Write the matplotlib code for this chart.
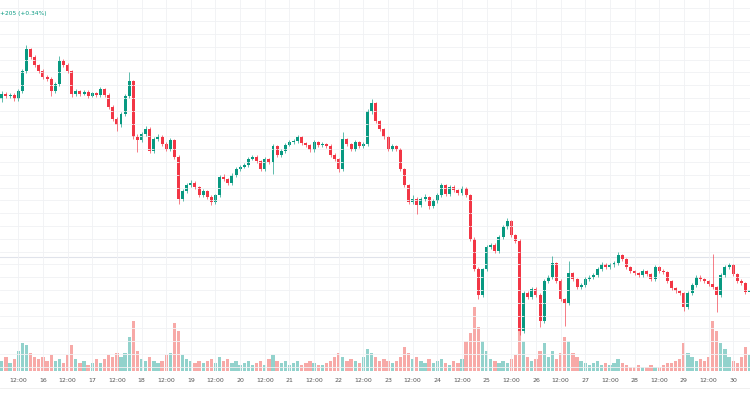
import numpy as np
import matplotlib
matplotlib.use("Agg")
import matplotlib.pyplot as plt

# 2-hour candles, time in hours from day 15 00:00
t_start = 4
step = 2

close = [64400, 64360, 64380, 64300, 64460, 64860, 65300, 65140, 64980, 64860,
         64740, 64700, 64460, 64600, 65060, 64980, 64860, 64400, 64460, 64400,
         64440, 64360, 64420, 64380, 64500, 64380, 64140, 63900, 63780, 64000,
         64360, 64660, 63540, 63480, 63600, 63700, 63260, 63500, 63540, 63400,
         63300, 63480, 63140, 62300, 62460, 62580, 62620, 62540, 62380, 62460,
         62340, 62240, 62380, 62740, 62700, 62620, 62780, 62900, 62940, 62980,
         63100, 63140, 63060, 62900, 63100, 63040, 63360, 63180, 63260, 63380,
         63440, 63460, 63540, 63420, 63380, 63280, 63440, 63380, 63400, 63360,
         63180, 63100, 62900, 63500, 63400, 63300, 63440, 63360, 63400, 64060,
         64220, 63860, 63700, 63540, 63300, 63360, 63300, 62900, 62580, 62240,
         62300, 62180, 62300, 62340, 62160, 62260, 62380, 62580, 62400, 62540,
         62480, 62420, 62520, 62380, 61500, 60900, 60380, 60900, 61340, 61380,
         61260, 61540, 61740, 61860, 61580, 61460, 59660, 60420, 60340, 60500,
         60380, 59860, 60660, 60740, 61020, 60660, 60300, 60220, 60820, 60700,
         60540, 60580, 60700, 60740, 60780, 60900, 61000, 60940, 60980, 61020,
         61180, 61100, 60940, 60860, 60820, 60780, 60860, 60800, 60700, 60940,
         60860, 60840, 60660, 60520, 60460, 60420, 60140, 60420, 60580, 60740,
         60700, 60660, 60600, 60540, 60380, 60780, 60940, 60980, 60800, 60660,
         60620, 60440, 60480]

open_ = [64300, 64400, 64360, 64380, 64300, 64460, 64860, 65300, 65140, 64980,
         64860, 64740, 64700, 64460, 64600, 65060, 64980, 64860, 64400, 64460,
         64400, 64440, 64360, 64420, 64380, 64500, 64380, 64140, 63900, 63780,
         64000, 64360, 64660, 63540, 63480, 63600, 63700, 63260, 63500, 63540,
         63400, 63300, 63480, 63140, 62300, 62460, 62580, 62620, 62540, 62380,
         62460, 62340, 62240, 62380, 62740, 62700, 62620, 62780, 62900, 62940,
         62980, 63100, 63140, 63060, 62900, 63100, 63040, 63360, 63180, 63260,
         63380, 63440, 63460, 63540, 63420, 63380, 63280, 63440, 63380, 63400,
         63360, 63180, 63100, 62900, 63500, 63400, 63300, 63440, 63360, 63400,
         64060, 64220, 63860, 63700, 63540, 63300, 63360, 63300, 62900, 62580,
         62240, 62300, 62180, 62300, 62340, 62160, 62260, 62380, 62580, 62400,
         62540, 62480, 62420, 62520, 62380, 61500, 60900, 60380, 60900, 61340,
         61380, 61260, 61540, 61740, 61860, 61580, 61460, 59660, 60420, 60340,
         60500, 60380, 59860, 60660, 60740, 61020, 60660, 60300, 60220, 60820,
         60700, 60540, 60580, 60700, 60740, 60780, 60900, 61000, 60940, 60980,
         61020, 61180, 61100, 60940, 60860, 60820, 60780, 60860, 60800, 60700,
         60940, 60860, 60840, 60660, 60520, 60460, 60420, 60140, 60420, 60580,
         60740, 60700, 60660, 60600, 60540, 60380, 60780, 60940, 60980, 60800,
         60660, 60620, 60440]

high = [64460, 64440, 64420, 64420, 64500, 64900, 65380, 65320, 65180, 65000,
        64900, 64780, 64740, 64640, 65160, 65100, 65020, 64880, 64500, 64480,
        64480, 64480, 64440, 64440, 64540, 64520, 64420, 64180, 63940, 64040,
        64400, 64840, 64680, 63600, 63640, 63760, 63740, 63540, 63600, 63580,
        63440, 63520, 63500, 63180, 62500, 62620, 62680, 62660, 62560, 62500,
        62480, 62380, 62400, 62780, 62800, 62720, 62820, 62940, 62980, 63020,
        63140, 63180, 63180, 63080, 63140, 63120, 63400, 63380, 63300, 63420,
        63480, 63500, 63580, 63560, 63440, 63400, 63480, 63460, 63440, 63420,
        63400, 63220, 63120, 63640, 63520, 63420, 63480, 63460, 63440, 64100,
        64300, 64240, 63880, 63720, 63560, 63400, 63380, 63320, 62920, 62600,
        62380, 62340, 62340, 62400, 62360, 62300, 62420, 62620, 62600, 62580,
        62580, 62500, 62560, 62540, 62400, 61540, 60940, 60920, 61380, 61420,
        61420, 61580, 61780, 61920, 61880, 61600, 61500, 60460, 60460, 60540,
        60540, 60420, 60700, 60780, 61160, 61040, 60700, 60320, 61060, 60840,
        60720, 60620, 60740, 60780, 60820, 60940, 61040, 61020, 61020, 61060,
        61240, 61200, 61120, 60960, 60880, 60840, 60900, 60880, 60820, 60980,
        60960, 60900, 60860, 60680, 60540, 60480, 60440, 60460, 60620, 60780,
        60780, 60720, 60680, 61200, 60560, 60820, 60980, 61020, 61000, 60820,
        60700, 60640, 60520]

low = [64240, 64320, 64320, 64260, 64260, 64420, 64820, 65100, 64940, 64820,
       64700, 64660, 64360, 64420, 64560, 64940, 64820, 64340, 64360, 64360,
       64380, 64320, 64340, 64340, 64340, 64340, 64100, 63860, 63660, 63740,
       63960, 64320, 63500, 63240, 63440, 63560, 63220, 63220, 63460, 63360,
       63260, 63260, 63100, 62200, 62260, 62420, 62540, 62500, 62340, 62340,
       62300, 62180, 62200, 62340, 62660, 62580, 62580, 62740, 62860, 62920,
       62940, 63080, 63020, 62860, 62860, 63000, 62800, 63140, 63140, 63220,
       63360, 63400, 63420, 63380, 63340, 63240, 63240, 63340, 63340, 63320,
       63140, 63060, 62840, 62860, 63360, 63260, 63260, 63320, 63320, 63360,
       64000, 63820, 63660, 63500, 63260, 63260, 63260, 62860, 62540, 62200,
       62200, 62000, 62140, 62260, 62100, 62120, 62220, 62340, 62360, 62360,
       62440, 62380, 62380, 62340, 61460, 60860, 60300, 60340, 60860, 61300,
       61220, 61220, 61500, 61700, 61540, 61420, 59580, 59620, 60300, 60300,
       60340, 59740, 59820, 60620, 60700, 60620, 60260, 59760, 60180, 60660,
       60500, 60500, 60540, 60660, 60700, 60740, 60860, 60900, 60900, 60940,
       60980, 61060, 60900, 60820, 60780, 60740, 60740, 60760, 60660, 60660,
       60820, 60800, 60620, 60480, 60420, 60380, 60060, 60100, 60380, 60540,
       60660, 60620, 60560, 60500, 60040, 60340, 60740, 60900, 60760, 60620,
       60580, 60400, 60400]

volume = [250, 350, 200, 300, 500, 700, 650, 450, 350, 300,
          350, 250, 400, 250, 300, 200, 400, 650, 300, 200,
          250, 150, 200, 300, 200, 300, 400, 350, 450, 350,
          450, 850, 1250, 500, 300, 250, 350, 250, 200, 250,
          400, 450, 1200, 1000, 400, 300, 250, 200, 250, 200,
          250, 300, 200, 350, 250, 300, 200, 250, 150, 200,
          250, 150, 200, 250, 150, 300, 400, 250, 200, 250,
          150, 200, 250, 150, 200, 250, 200, 150, 150, 200,
          250, 350, 450, 350, 250, 300, 250, 200, 350, 550,
          450, 350, 250, 300, 250, 200, 250, 350, 600, 450,
          300, 350, 250, 200, 300, 200, 250, 300, 200, 150,
          250, 200, 300, 750, 950, 1600, 1100, 750, 500, 300,
          250, 200, 250, 200, 300, 400, 1200, 750, 350, 250,
          300, 500, 700, 350, 500, 300, 450, 850, 750, 450,
          350, 250, 200, 150, 200, 250, 150, 200, 150, 200,
          300, 200, 150, 100, 100, 150, 100, 100, 150, 100,
          100, 150, 200, 200, 250, 300, 700, 450, 350, 250,
          300, 250, 350, 1250, 1000, 700, 550, 350, 250, 200,
          350, 600, 400]

day_labels = ["16", "17", "18", "19", "20", "21", "22", "23", "24", "25",
              "26", "27", "28", "29", "30"]

up_color = "#089981"
down_color = "#f23645"
up_vol = "#92d2cc"
down_vol = "#f7a9a7"

close = np.array(close)
open_ = np.array(open_)
high = np.array(high)
low = np.array(low)
volume = np.array(volume)
t = t_start + step * np.arange(len(close))
up = close >= open_

fig = plt.figure(figsize=(7.5, 4.1), dpi=100)
ax = fig.add_axes([0, 38 / 410, 1, 372 / 410])
axv = ax.twinx()
ax.set_zorder(axv.get_zorder() + 1)
ax.patch.set_visible(False)

# volume pane at the bottom
vcol = np.where(up, up_vol, down_vol)
axv.bar(t, volume, width=1.6, color=vcol, linewidth=0)
axv.set_ylim(0, 25 * 372)
axv.set_yticks([])

# candles
col = np.where(up, up_color, down_color)
ax.vlines(t, low, high, colors=col, linewidth=0.7, alpha=0.65)
body_lo = np.minimum(open_, close)
body_h = np.maximum(np.abs(close - open_), 12)
ax.bar(t, body_h, bottom=body_lo, width=1.45, color=col, linewidth=0)

ax.set_xlim(3.1, 368.2)
ax.set_ylim(66300 - 20 * 372, 66300)

# grid
xt = np.arange(12, 368, 12)
ax.set_xticks(xt)
labels = []
for x in xt:
    if x % 24 == 0:
        labels.append(day_labels[x // 24 - 1])
    else:
        labels.append("12:00")
ax.set_xticklabels(labels, fontsize=4.5, color="#555555")
ax.tick_params(axis="x", length=0, pad=4)
ax.set_yticks(np.arange(66114, 58900, -256))
ax.tick_params(axis="y", length=0, labelleft=False)
ax.grid(True, color="#f0f1f4", linewidth=0.6)
ax.axhline(66300 - 20 * 258, color="#e0e3eb", linewidth=0.8, zorder=0)
for a in (ax, axv):
    for s in a.spines.values():
        s.set_visible(False)

fig.text(0.0, 1 - 14 / 410, "+205 (+0.34%)", fontsize=4.2, color=up_color,
         va="center", ha="left")
fig.add_artist(plt.Line2D([0, 1], [1 - 389 / 410] * 2, color="#eeeeee",
                          linewidth=0.6))

fig.savefig("out.png", dpi=100, facecolor="white")
